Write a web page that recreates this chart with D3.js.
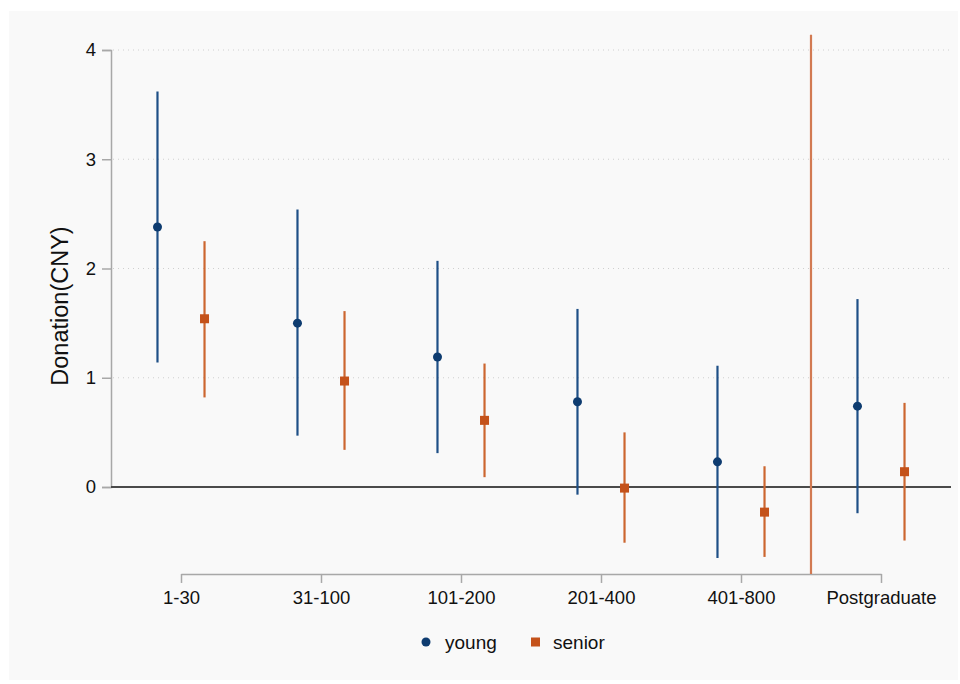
<!DOCTYPE html>
<html>
<head>
<meta charset="utf-8">
<script src="https://cdn.jsdelivr.net/npm/d3@7"></script>
<style>
  body { margin: 0; background: #fff; }
  svg { display: block; font-family: "Liberation Sans", Arial, sans-serif; }
</style>
</head>
<body>
<svg width="960" height="684"></svg>
<script>
// categories and estimates
var categories = ['1-30', '31-100', '101-200', '201-400', '401-800', 'Postgraduate'];
var youngMean  = [2.38, 1.50, 1.19, 0.78, 0.23, 0.74];
var youngLow   = [1.14, 0.47, 0.31, -0.07, -0.65, -0.24];
var youngHigh  = [3.62, 2.54, 2.07, 1.63, 1.11, 1.72];
var seniorMean = [1.54, 0.97, 0.61, -0.01, -0.23, 0.14];
var seniorLow  = [0.82, 0.34, 0.09, -0.51, -0.64, -0.49];
var seniorHigh = [2.25, 1.61, 1.13, 0.50, 0.19, 0.77];
// stray senior interval drawn between 401-800 and Postgraduate (no point shown)
var strayPos  = [5.5];
var strayLow  = [-1.2];
var strayHigh = [4.14];
var yTicks = [0, 1, 2, 3, 4];

var svg = d3.select('svg');

svg.append('rect')
   .attr('x', 9).attr('y', 11)
   .attr('width', 949).attr('height', 669)
   .attr('fill', '#f9f9f9');

var x = d3.scaleLinear().domain([1, 6]).range([181, 881]);
var y = d3.scaleLinear().domain([0, 4]).range([487, 50]);
var off = 0.168;
var yBottom = y(-0.796);

var young = '#0e3c70', youngLine = '#1e4f86';
var senior = '#c4521a', seniorLine = '#cc6630';

// grid lines
svg.append('g').selectAll('line')
   .data(yTicks.filter(function(d){ return d > 0 }))
   .enter().append('line')
   .attr('x1', 113).attr('x2', 950)
   .attr('y1', function(d){ return y(d) }).attr('y2', function(d){ return y(d) })
   .attr('stroke', '#cfcfcf').attr('stroke-width', 1)
   .attr('stroke-dasharray', '1,4');

// y axis
var yAxis = svg.append('g')
   .attr('transform', 'translate(111,0)')
   .call(d3.axisLeft(y).tickValues(yTicks).tickSize(9).tickPadding(6).tickFormat(d3.format('d')));
yAxis.select('.domain').attr('stroke', '#a8a8a8').attr('stroke-width', 1.5);
yAxis.selectAll('.tick line').attr('stroke', '#a8a8a8').attr('stroke-width', 1.5);
yAxis.selectAll('text').attr('font-size', 18.5).attr('fill', '#111')
     .attr('font-family', '"Liberation Sans", Arial, sans-serif');

svg.append('text')
   .attr('transform', 'translate(68,' + 306 + ') rotate(-90)')
   .attr('text-anchor', 'middle')
   .attr('font-size', 23.5).attr('fill', '#111')
   .text('Donation(CNY)');

// x axis
var xAxis = svg.append('g')
   .attr('transform', 'translate(0,' + (yBottom) + ')')
   .call(d3.axisBottom(x).tickValues([1, 2, 3, 4, 5, 6]).tickSize(9).tickPadding(8)
         .tickSizeOuter(0).tickFormat(function(d){ return categories[d - 1] }));
xAxis.select('.domain').attr('stroke', '#a8a8a8').attr('stroke-width', 1.5);
xAxis.selectAll('.tick line').attr('stroke', '#a8a8a8').attr('stroke-width', 1.5);
xAxis.selectAll('text').attr('font-size', 18.5).attr('fill', '#111')
     .attr('font-family', '"Liberation Sans", Arial, sans-serif');

// zero line
svg.append('line')
   .attr('x1', 111).attr('x2', 951)
   .attr('y1', y(0)).attr('y2', y(0))
   .attr('stroke', '#4a4a4a').attr('stroke-width', 2);

svg.append('clipPath').attr('id', 'plotclip')
   .append('rect').attr('x', 111).attr('y', 0).attr('width', 849).attr('height', yBottom);

var plot = svg.append('g').attr('clip-path', 'url(#plotclip)');

// stray interval
plot.selectAll('.stray').data(strayPos).enter().append('line')
   .attr('class', 'stray')
   .attr('x1', function(d){ return x(d) }).attr('x2', function(d){ return x(d) })
   .attr('y1', function(d, i){ return y(strayHigh[i]) })
   .attr('y2', function(d, i){ return y(strayLow[i]) })
   .attr('stroke', '#d27a52').attr('stroke-width', 2.2);

// young
plot.selectAll('.ycil').data(youngMean).enter().append('line')
   .attr('x1', function(d, i){ return x(i + 1 - off) })
   .attr('x2', function(d, i){ return x(i + 1 - off) })
   .attr('y1', function(d, i){ return y(youngHigh[i]) })
   .attr('y2', function(d, i){ return y(youngLow[i]) })
   .attr('stroke', youngLine).attr('stroke-width', 2.2);
plot.selectAll('.ypt').data(youngMean).enter().append('circle')
   .attr('cx', function(d, i){ return x(i + 1 - off) })
   .attr('cy', function(d){ return y(d) })
   .attr('r', 4.5).attr('fill', young);

// senior
plot.selectAll('.scil').data(seniorMean).enter().append('line')
   .attr('x1', function(d, i){ return x(i + 1 + off) })
   .attr('x2', function(d, i){ return x(i + 1 + off) })
   .attr('y1', function(d, i){ return y(seniorHigh[i]) })
   .attr('y2', function(d, i){ return y(seniorLow[i]) })
   .attr('stroke', seniorLine).attr('stroke-width', 2.2);
plot.selectAll('.spt').data(seniorMean).enter().append('rect')
   .attr('x', function(d, i){ return x(i + 1 + off) - 4.5 })
   .attr('y', function(d){ return y(d) - 4.5 })
   .attr('width', 9).attr('height', 9).attr('fill', senior);

// legend
var legend = svg.append('g');
legend.append('circle').attr('cx', 426).attr('cy', 642).attr('r', 4.5).attr('fill', young);
legend.append('text').attr('x', 445).attr('y', 649).attr('font-size', 19).attr('fill', '#111').text('young');
legend.append('rect').attr('x', 531).attr('y', 637.5).attr('width', 9).attr('height', 9).attr('fill', senior);
legend.append('text').attr('x', 553).attr('y', 649).attr('font-size', 19).attr('fill', '#111').text('senior');
</script>
</body>
</html>
